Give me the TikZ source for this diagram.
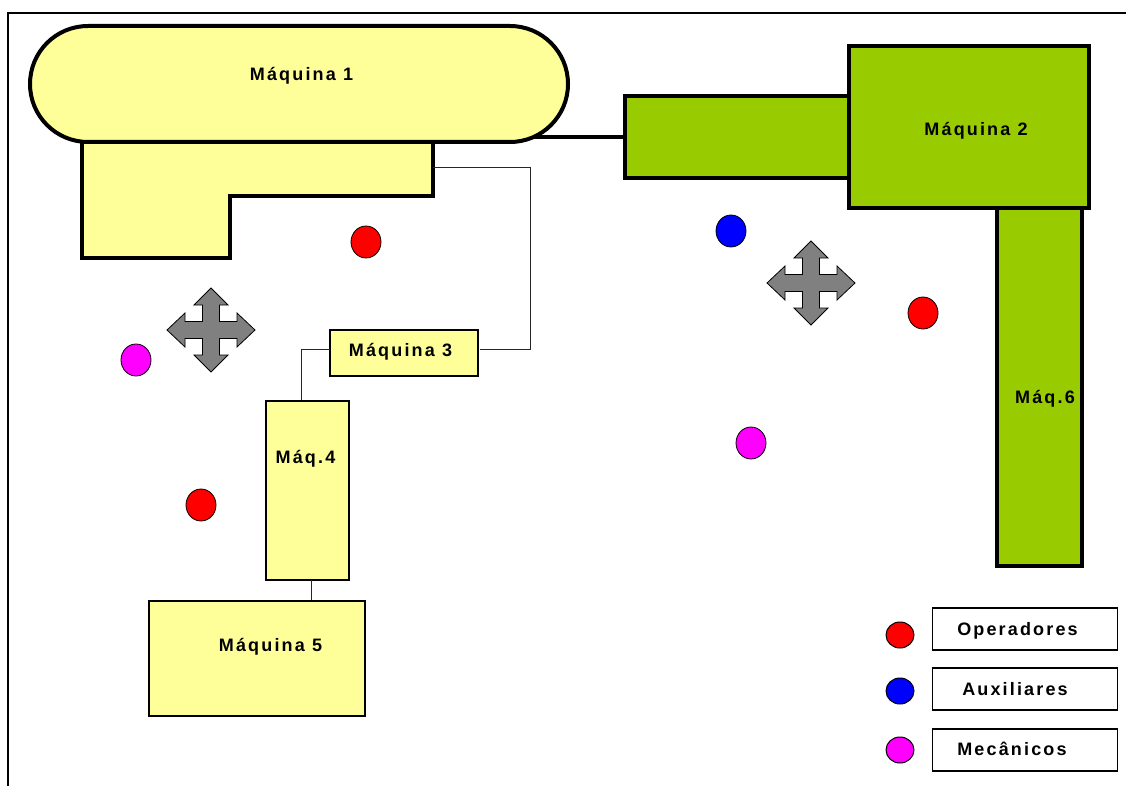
\documentclass[tikz,border=0pt]{standalone}
\usepackage{fontspec}
\setmainfont{Liberation Sans}
\newfontfamily\lblfont[LetterSpace=12]{Liberation Sans Bold}
\usetikzlibrary{shapes.misc,shapes.geometric}
\definecolor{machyellow}{HTML}{FFFF99}
\definecolor{machgreen}{HTML}{99CC00}
\definecolor{arrowgray}{HTML}{808080}
\definecolor{opred}{HTML}{FF0000}
\definecolor{auxblue}{HTML}{0000FF}
\definecolor{mecmag}{HTML}{FF00FF}
\tikzset{
  lbl/.style={font=\lblfont\fontsize{18}{20}\selectfont, text=black, anchor=base, inner sep=0pt},
  heavy/.style={draw=black, line width=4pt, line join=miter},
  yellowbox/.style={rectangle, fill=machyellow, draw=black, line width=1.8pt, inner sep=0pt},
  greenbox/.style={rectangle, fill=machgreen, draw=black, line width=4.5pt, inner sep=0pt},
  link/.style={draw=black!85, line width=1pt},
  worker/.style={ellipse, draw=black, line width=0.8pt, minimum width=30pt, minimum height=32pt, inner sep=0pt},
  legdot/.style={ellipse, draw=black, line width=1pt, minimum width=28pt, minimum height=26pt, inner sep=0pt},
  legbox/.style={rectangle, draw=black, line width=1.6pt, minimum width=185pt, minimum height=42pt, inner sep=0pt},
  pics/movearrows/.style={code={
    \draw[fill=arrowgray, draw=black, line width=0.8pt, line join=miter]
      (0,-42) -- (17,-25) -- (8.5,-25) -- (8.5,-8.5) -- (26,-8.5) -- (26,-17) -- (44,0)
      -- (26,17) -- (26,8.5) -- (8.5,8.5) -- (8.5,25) -- (17,25) -- (0,42)
      -- (-17,25) -- (-8.5,25) -- (-8.5,8.5) -- (-26,8.5) -- (-26,17) -- (-44,0)
      -- (-26,-17) -- (-26,-8.5) -- (-8.5,-8.5) -- (-8.5,-25) -- (-17,-25) -- cycle;
  }}
}
\begin{document}
\begin{tikzpicture}[x=1pt,y=-1pt]
\useasboundingbox (0,0) rectangle (1126,786);
% sheet border
\coordinate (frameTL) at (8,13);
\coordinate (frameTR) at (1126,13);
\coordinate (frameBL) at (8,786);
\draw[line width=1.6pt] (frameTR) -- (frameTL) -- (frameBL);

% Maquina 1: lower body and stadium-shaped top
\draw[heavy, fill=machyellow]
  (82,142) -- (433,142) -- (433,196) -- (230,196) -- (230,258) -- (82,258) -- cycle;
\coordinate (m1joint) at (531,137);
\node[greenbox, minimum width=224pt, minimum height=82pt] (m2a) at (737,137) {};
\draw[heavy] (m1joint) -- (m2a.west);
\node[rounded rectangle, fill=machyellow, draw=black, line width=4pt,
      minimum width=538pt, minimum height=116pt, inner sep=0pt] (m1) at (299,84) {};
\node[lbl] at (301.5,81) {Máquina 1};

% Maquina 2 and Maq.6
\node[greenbox, minimum width=240pt, minimum height=162pt] (m2) at (969,127) {};
\node[lbl] at (976,136) {Máquina 2};
\node[greenbox, minimum width=85pt, minimum height=358pt] (m6) at (1039.5,387) {};
\node[lbl] at (1045,403) {Máq.6};

% Maquina 3, Maq.4, Maquina 5
\node[yellowbox, minimum width=148pt, minimum height=46pt] (m3) at (404,353) {};
\node[lbl] at (400.5,356) {Máquina 3};
\node[yellowbox, minimum width=83pt, minimum height=179pt] (m4) at (307.5,490.5) {};
\node[lbl] at (305.5,463) {Máq.4};
\node[yellowbox, minimum width=216pt, minimum height=115pt] (m5) at (257,658.5) {};
\node[lbl] at (270.5,651.5) {Máquina 5};

% connecting lines
\coordinate (c1a) at (433,168);
\coordinate (c1b) at (530,168);
\coordinate (c1c) at (530,349);
\coordinate (c1d) at (480,349);
\draw[link] (c1a) -- (c1b) -- (c1c) -- (c1d);
\coordinate (c2a) at (330,349);
\coordinate (c2b) at (301,349);
\draw[link] (c2a) -- (c2b) -- (c2b |- m4.north);
\coordinate (c3a) at (311,580);
\draw[link] (c3a) -- (c3a |- m5.north);

% movement arrows
\pic at (211,330) {movearrows};
\pic at (811,283) {movearrows};

% workers
\node[worker, fill=opred] (op1) at (366,242) {};
\node[worker, fill=opred] (op2) at (923,313) {};
\node[worker, fill=opred] (op3) at (201,505) {};
\node[worker, fill=auxblue] (aux1) at (731,231) {};
\node[worker, fill=mecmag] (mec1) at (136,360) {};
\node[worker, fill=mecmag] (mec2) at (751,443) {};

% legend
\node[legdot, fill=opred] (legop) at (900,635) {};
\node[legbox] (legopbox) at (1025,629) {};
\node[lbl] at (1017.5,635) {Operadores};
\node[legdot, fill=auxblue] (legaux) at (900,691) {};
\node[legbox] (legauxbox) at (1025,689) {};
\node[lbl] at (1015,695) {Auxiliares};
\node[legdot, fill=mecmag] (legmec) at (900,750) {};
\node[legbox] (legmecbox) at (1025,750) {};
\node[lbl] at (1012,755.5) {Mecânicos};
\end{tikzpicture}
\end{document}
